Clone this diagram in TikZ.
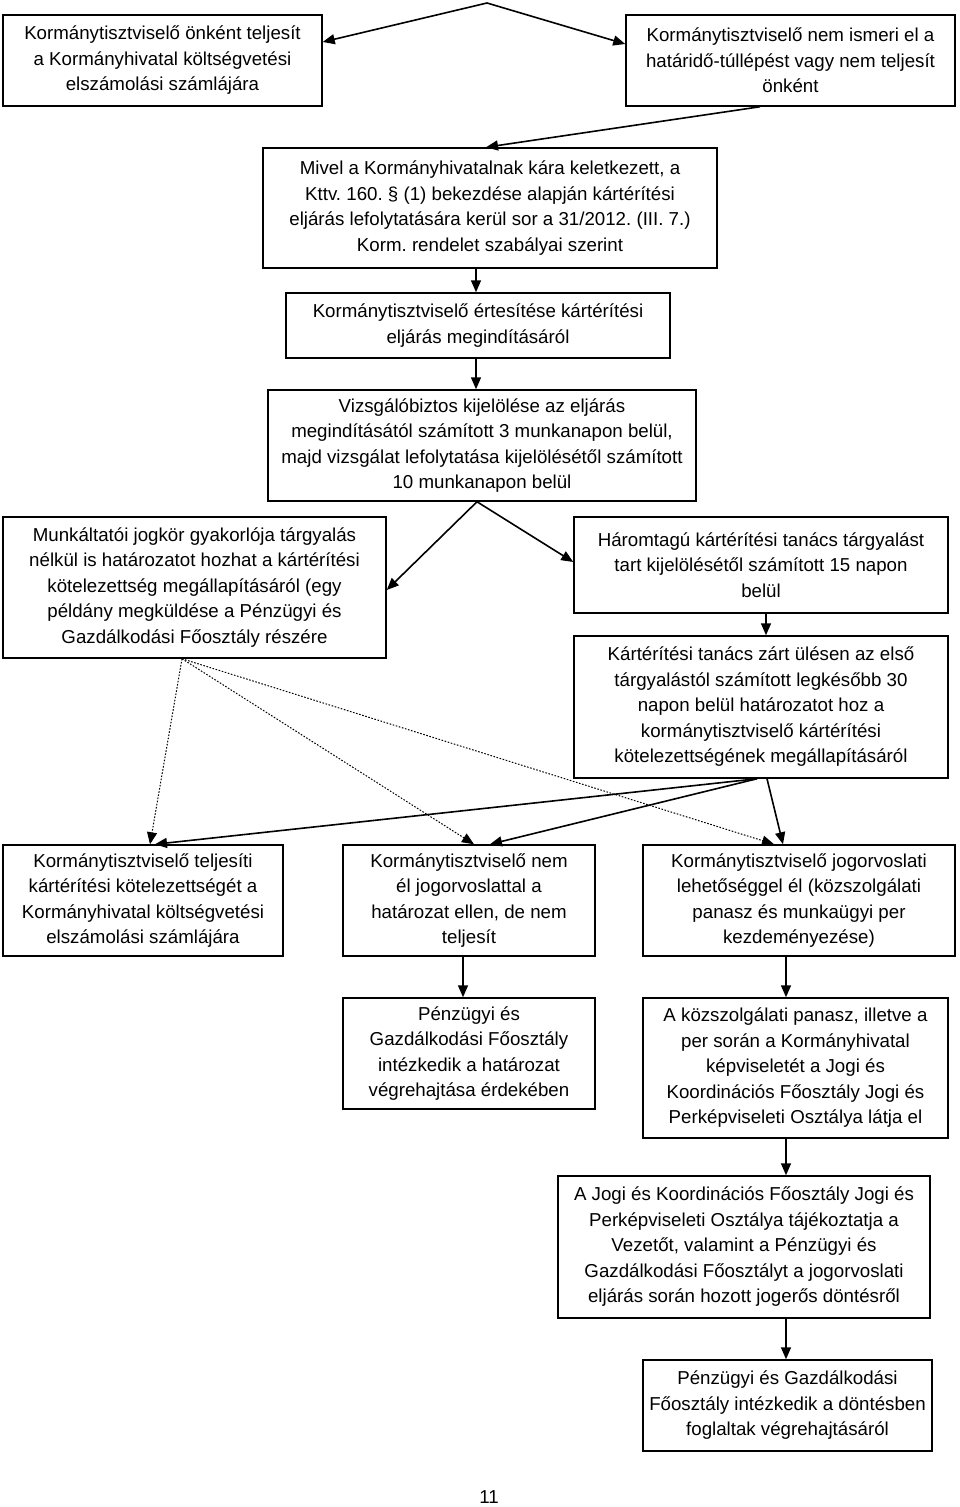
\documentclass[tikz,border=0pt]{standalone}
\usepackage{fontspec}
\setmainfont{Liberation Sans}
\usetikzlibrary{arrows.meta}
\frenchspacing
\begin{document}
\begin{tikzpicture}[x=1pt,y=-1pt,
  box/.style={draw, line width=1.5pt, inner sep=0pt, align=center,
    font=\fontsize{18.7}{25.5}\selectfont\frenchspacing},
  arr/.style={line width=1.6pt, -{Triangle[length=12pt,width=10pt]}},
  dot/.style={line width=1pt, dash pattern=on 1.6pt off 1.6pt, -{Triangle[length=12pt,width=10pt]}}]
\useasboundingbox (0,0) rectangle (960,1507);
\fill[white] (0,0) rectangle (960,1507);

\node[box, minimum width=319pt, minimum height=91pt] (A) at (162.5,60.5)
  {Kormánytisztviselő önként teljesít\\a Kormányhivatal költségvetési\\elszámolási számlájára};
\node[box, minimum width=329pt, minimum height=91pt] (B) at (790.5,60.5)
  {Kormánytisztviselő nem ismeri el a\\határidő-túllépést vagy nem teljesít\\önként};
\node[box, minimum width=454pt, minimum height=120pt] (M1) at (490,208)
  {Mivel a Kormányhivatalnak kára keletkezett, a\\Kttv. 160. \S{} (1) bekezdése alapján kártérítési\\eljárás lefolytatására kerül sor a 31/2012. (III. 7.)\\Korm. rendelet szabályai szerint};
\node[box, minimum width=384pt, minimum height=65pt] (C) at (478,325.5)
  {Kormánytisztviselő értesítése kártérítési\\eljárás megindításáról};
\node[box, minimum width=428pt, minimum height=111pt] (D) at (482,445.5)
  {Vizsgálóbiztos kijelölése az eljárás\\megindításától számított 3 munkanapon belül,\\majd vizsgálat lefolytatása kijelölésétől számított\\10 munkanapon belül};
\node[box, minimum width=383pt, minimum height=141pt] (E) at (194.5,587.5)
  {Munkáltatói jogkör gyakorlója tárgyalás\\nélkül is határozatot hozhat a kártérítési\\kötelezettség megállapításáról (egy\\példány megküldése a Pénzügyi és\\Gazdálkodási Főosztály részére};
\node[box, minimum width=374pt, minimum height=96pt] (F) at (761,565)
  {Háromtagú kártérítési tanács tárgyalást\\tart kijelölésétől számított 15 napon\\belül};
\node[box, minimum width=374pt, minimum height=142pt] (G) at (761,707)
  {Kártérítési tanács zárt ülésen az első\\tárgyalástól számított legkésőbb 30\\napon belül határozatot hoz a\\kormánytisztviselő kártérítési\\kötelezettségének megállapításáról};
\node[box, minimum width=280pt, minimum height=111pt] (H) at (143,900.5)
  {Kormánytisztviselő teljesíti\\kártérítési kötelezettségét a\\Kormányhivatal költségvetési\\elszámolási számlájára};
\node[box, minimum width=252pt, minimum height=111pt] (I) at (469,900.5)
  {Kormánytisztviselő nem\\él jogorvoslattal a\\határozat ellen, de nem\\teljesít};
\node[box, minimum width=312pt, minimum height=111pt] (J) at (799,900.5)
  {Kormánytisztviselő jogorvoslati\\lehetőséggel él (közszolgálati\\panasz és munkaügyi per\\kezdeményezése)};
\node[box, minimum width=252pt, minimum height=111pt] (K) at (469,1053.5)
  {Pénzügyi és\\Gazdálkodási Főosztály\\intézkedik a határozat\\végrehajtása érdekében};
\node[box, minimum width=305pt, minimum height=140pt] (L) at (795.5,1068)
  {A közszolgálati panasz, illetve a\\per során a Kormányhivatal\\képviseletét a Jogi és\\Koordinációs Főosztály Jogi és\\Perképviseleti Osztálya látja el};
\node[box, minimum width=372pt, minimum height=142pt] (Mb) at (744,1247)
  {A Jogi és Koordinációs Főosztály Jogi és\\Perképviseleti Osztálya tájékoztatja a\\Vezetőt, valamint a Pénzügyi és\\Gazdálkodási Főosztályt a jogorvoslati\\eljárás során hozott jogerős döntésről};
\node[box, minimum width=289pt, minimum height=91pt] (N) at (787.5,1405.5)
  {Pénzügyi és Gazdálkodási\\Főosztály intézkedik a döntésben\\foglaltak végrehajtásáról};
\node[font=\fontsize{18.7}{22}\selectfont] (pg) at (489,1497) {11};

% connectors
\coordinate (P) at (487,3);
\draw[arr] (P) -- ([yshift=18.5pt]A.east);
\draw[arr] (P) -- ([yshift=16.5pt]B.west);
\draw[arr] ([xshift=-30.5pt]B.south) -- ([xshift=-4pt]M1.north);
\draw[arr] ([xshift=-2pt]C.north |- M1.south) -- ([xshift=-2pt]C.north);
\draw[arr] ([xshift=-2pt]C.south) -- ([xshift=-2pt]C.south |- D.north);
\draw[arr] ([xshift=-5pt]D.south) -- ([yshift=-2.5pt]E.east);
\draw[arr] ([xshift=-5pt]D.south) -- ([yshift=3pt]F.west);
\draw[arr] ([xshift=5pt]F.south) -- ([xshift=5pt]G.north);
\draw[arr] ([xshift=-4pt]G.south) -- ([xshift=12pt]H.north);
\draw[arr] ([xshift=-4pt]G.south) -- ([xshift=21pt]I.north);
\draw[arr] ([xshift=6pt]G.south) -- ([xshift=-16pt]J.north);
\draw[dot] ([xshift=-12.5pt]E.south) -- ([xshift=7pt]H.north);
\draw[dot] ([xshift=-12.5pt]E.south) -- ([xshift=5pt]I.north);
\draw[dot] ([xshift=-12.5pt]E.south) -- ([xshift=-25pt]J.north);
\draw[arr] ([xshift=-6pt]I.south) -- ([xshift=-6pt]K.north);
\draw[arr] ([xshift=-9.5pt]L.north |- J.south) -- ([xshift=-9.5pt]L.north);
\draw[arr] ([xshift=-9.5pt]L.south) -- ([xshift=-9.5pt]L.south |- Mb.north);
\draw[arr] ([xshift=-1.5pt]N.north |- Mb.south) -- ([xshift=-1.5pt]N.north);
\end{tikzpicture}
\end{document}
